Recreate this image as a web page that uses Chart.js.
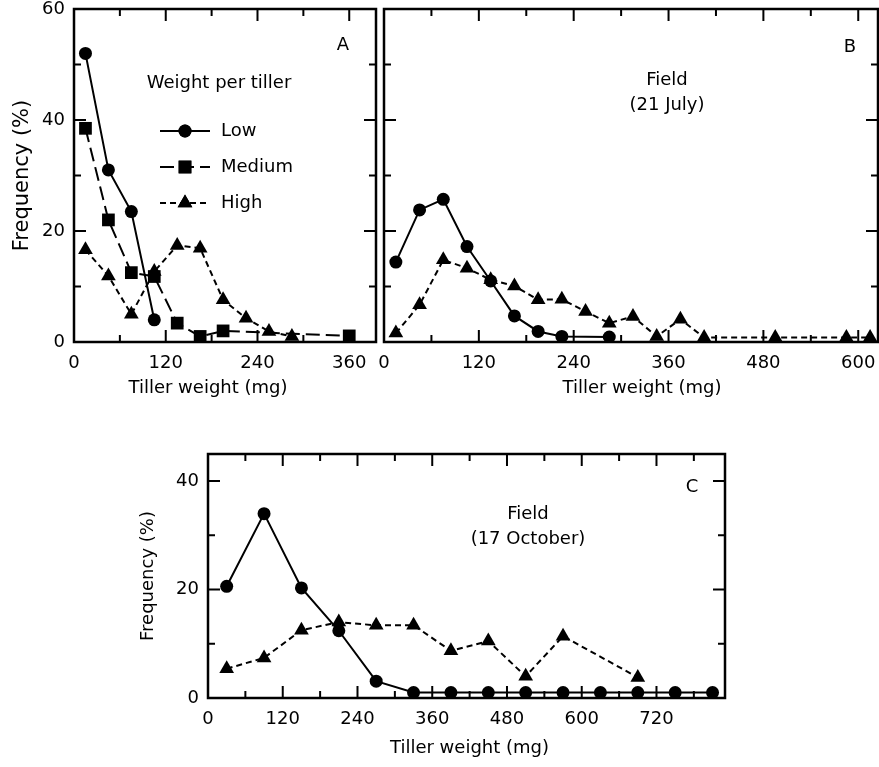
<!DOCTYPE html>
<html>
<head>
<meta charset="utf-8">
<script src="https://cdn.jsdelivr.net/npm/chart.js@4.4.1/dist/chart.umd.min.js"></script>
<style>
  body { margin: 0; background: #fff; width: 879px; height: 767px; position: relative; overflow: hidden; }
  canvas { position: absolute; }
</style>
</head>
<body>
<canvas id="chartA" width="380" height="420" style="left:0;top:0"></canvas>
<canvas id="chartB" width="509" height="420" style="left:370px;top:0"></canvas>
<canvas id="chartC" width="612" height="327" style="left:120px;top:440px"></canvas>
<script>
// Panel A - weight per tiller (frequency %)
const lowA_x = [15, 45, 75, 105];
const lowA = [52, 31, 23.5, 4];
const mediumA_x = [15, 45, 75, 105, 135, 165, 195, 360];
const mediumA = [38.5, 22, 12.5, 11.8, 3.4, 1, 2, 1.1];
const highA_x = [15, 45, 75, 105, 135, 165, 195, 225, 255, 285];
const highA = [16.6, 11.9, 5, 12.7, 17.4, 16.9, 7.6, 4.3, 1.9, 1];

// Panel B - field, 21 July
const lowB_x = [15, 45, 75, 105, 135, 165, 195, 225, 285];
const lowB = [14.4, 23.8, 25.7, 17.2, 11, 4.7, 1.9, 1, 0.9];
const highB_x = [15, 45, 75, 105, 135, 165, 195, 225, 255, 285, 315, 345, 375, 405, 495, 585, 615];
const highB = [1.6, 6.7, 14.8, 13.3, 11.2, 10.1, 7.6, 7.7, 5.5, 3.4, 4.6, 1, 4.1, 0.8, 0.8, 0.8, 0.8];

// Panel C - field, 17 October
const lowC_x = [30, 90, 150, 210, 270, 330, 390, 450, 510, 570, 630, 690, 750, 810];
const lowC = [20.6, 34, 20.3, 12.4, 3.1, 1, 1, 1, 1, 1, 1, 1, 1, 1];
const highC_x = [30, 90, 150, 210, 270, 330, 390, 450, 510, 570, 690];
const highC = [5.4, 7.4, 12.5, 14, 13.4, 13.4, 8.7, 10.5, 4, 11.4, 3.8];

const FONT = 'DejaVu Sans';
const X_TITLE = 'Tiller weight (mg)';
const Y_TITLE = 'Frequency (%)';

function pts(xs, ys) {
  return xs.map((x, i) => ({ x: x, y: ys[i] }));
}

function series(label, xs, ys, style) {
  const d = {
    label: label,
    data: pts(xs, ys),
    borderColor: '#000',
    backgroundColor: '#000',
    borderWidth: 2,
    pointBackgroundColor: '#000',
    pointBorderColor: '#000',
    pointBorderWidth: 0,
    fill: false,
    tension: 0
  };
  if (style === 'low') { d.pointStyle = 'circle'; d.pointRadius = 6.5; d.borderDash = []; }
  if (style === 'medium') { d.pointStyle = 'rect'; d.pointRadius = 9; d.borderDash = [14, 6]; }
  if (style === 'high') { d.pointStyle = 'triangle'; d.pointRadius = 8.5; d.borderDash = [6, 4]; }
  return d;
}

// inward ticks on all four sides + frame
const frameTicks = {
  id: 'frameTicks',
  afterDatasetsDraw(chart, args, opts) {
    const { ctx, chartArea: a } = chart;
    const x = chart.scales.x, y = chart.scales.y;
    ctx.save();
    ctx.strokeStyle = '#000';
    ctx.lineWidth = 2;
    ctx.beginPath();
    x.ticks.forEach(t => {
      const px = x.getPixelForValue(t.value);
      const len = t.value % opts.xMajor === 0 ? 12 : 7;
      ctx.moveTo(px, a.bottom); ctx.lineTo(px, a.bottom - len);
      ctx.moveTo(px, a.top); ctx.lineTo(px, a.top + len);
    });
    y.ticks.forEach(t => {
      const py = y.getPixelForValue(t.value);
      const len = t.value % opts.yMajor === 0 ? 12 : 7;
      ctx.moveTo(a.left, py); ctx.lineTo(a.left + len, py);
      ctx.moveTo(a.right, py); ctx.lineTo(a.right - len, py);
    });
    ctx.stroke();
    ctx.lineWidth = 2.5;
    ctx.strokeRect(a.left, a.top, a.right - a.left, a.bottom - a.top);
    ctx.restore();
  }
};

// free text: panel letter, captions, legend, x axis title
const panelText = {
  id: 'panelText',
  afterDraw(chart, args, opts) {
    const { ctx, chartArea: a } = chart;
    ctx.save();
    ctx.fillStyle = '#000';
    ctx.font = '18px "' + FONT + '"';
    ctx.textBaseline = 'middle';
    (opts.items || []).forEach(it => {
      ctx.textAlign = it.align || 'center';
      const px = it.fromRight ? a.right - it.dx : a.left + it.dx;
      ctx.fillText(it.text, px, a.top + it.dy);
    });
    // x axis title, a little off-centre as in the original figure
    ctx.textAlign = 'center';
    ctx.fillText(X_TITLE, (a.left + a.right) / 2 + opts.titleShift, a.bottom + opts.titleDy);
    if (opts.legend) {
      const lg = opts.legend;
      ctx.fillText(lg.title, a.left + lg.titleDx, a.top + lg.titleDy);
      chart.data.datasets.forEach((ds, i) => {
        const yy = a.top + lg.dy0 + i * lg.step;
        const x0 = a.left + lg.dx;
        ctx.strokeStyle = '#000';
        ctx.lineWidth = 2;
        ctx.setLineDash(ds.borderDash || []);
        ctx.beginPath();
        ctx.moveTo(x0, yy); ctx.lineTo(x0 + lg.len, yy);
        ctx.stroke();
        ctx.setLineDash([]);
        Chart.helpers.drawPoint(ctx, {
          pointStyle: ds.pointStyle, radius: ds.pointRadius, borderWidth: 0, rotation: 0
        }, x0 + lg.len / 2, yy);
        ctx.fill();
        ctx.textAlign = 'left';
        ctx.fillText(ds.label, x0 + lg.len + 11, yy);
      });
    }
    ctx.restore();
  }
};

function axisX(max, h) {
  return {
    type: 'linear', min: 0, max: max,
    afterFit: s => { s.height = h; s.paddingLeft = 0; s.paddingRight = 0; },
    grid: { display: false, drawTicks: false },
    border: { display: false },
    ticks: {
      stepSize: 60, includeBounds: false, autoSkip: false, maxRotation: 0,
      padding: 11, color: '#000', font: { family: FONT, size: 18 },
      callback: v => (v % 120 === 0 ? v : '')
    }
  };
}

function axisY(max, cfg) {
  return {
    type: 'linear', min: 0, max: max,
    afterFit: s => { s.width = cfg.w; s.paddingTop = 0; s.paddingBottom = 0; },
    grid: { display: false, drawTicks: false },
    border: { display: false },
    ticks: {
      display: cfg.labels, stepSize: 10, includeBounds: false, padding: 9,
      color: '#000', font: { family: FONT, size: 18 },
      callback: v => (v % 20 === 0 ? v : '')
    },
    title: {
      display: cfg.labels, text: Y_TITLE, color: '#000',
      font: { family: FONT, size: cfg.tsize || 18 }, padding: { top: cfg.tpad, bottom: 0 }
    }
  };
}

function baseOptions(xs, ys, pad, texts) {
  return {
    responsive: false,
    animation: false,
    devicePixelRatio: 1,
    layout: { padding: pad, autoPadding: false },
    scales: { x: xs, y: ys },
    plugins: {
      legend: { display: false },
      tooltip: { enabled: false },
      frameTicks: { xMajor: 120, yMajor: 20 },
      panelText: texts
    }
  };
}

Chart.defaults.font.family = FONT;

new Chart(document.getElementById('chartA'), {
  type: 'line',
  data: {
    datasets: [
      series('Low', lowA_x, lowA, 'low'),
      series('Medium', mediumA_x, mediumA, 'medium'),
      series('High', highA_x, highA, 'high')
    ]
  },
  options: baseOptions(
    axisX(395, 78),
    axisY(60, { w: 74, labels: true, tpad: 10, tsize: 21 }),
    { top: 9, left: 0, right: 4, bottom: 0 },
    {
      titleShift: -17, titleDy: 46,
      items: [{ text: 'A', fromRight: true, dx: 33, dy: 36 }],
      legend: { title: 'Weight per tiller', titleDx: 145, titleDy: 74, dx: 86, dy0: 122, step: 36, len: 50 }
    }
  ),
  plugins: [frameTicks, panelText]
});

new Chart(document.getElementById('chartB'), {
  type: 'line',
  data: {
    datasets: [
      series('Low', lowB_x, lowB, 'low'),
      series('High', highB_x, highB, 'high')
    ]
  },
  options: baseOptions(
    axisX(625, 78),
    axisY(60, { w: 14, labels: false, tpad: 0 }),
    { top: 9, left: 0, right: 1, bottom: 0 },
    {
      titleShift: 11, titleDy: 46,
      items: [
        { text: 'B', fromRight: true, dx: 28, dy: 38 },
        { text: 'Field', dx: 283, dy: 71 },
        { text: '(21 July)', dx: 283, dy: 96 }
      ]
    }
  ),
  plugins: [frameTicks, panelText]
});

new Chart(document.getElementById('chartC'), {
  type: 'line',
  data: {
    datasets: [
      series('Low', lowC_x, lowC, 'low'),
      series('High', highC_x, highC, 'high')
    ]
  },
  options: baseOptions(
    axisX(830, 69),
    axisY(45, { w: 88, labels: true, tpad: 18 }),
    { top: 14, left: 0, right: 7, bottom: 0 },
    {
      titleShift: 3, titleDy: 50,
      items: [
        { text: 'C', fromRight: true, dx: 33, dy: 33 },
        { text: 'Field', dx: 320, dy: 60 },
        { text: '(17 October)', dx: 320, dy: 85 }
      ]
    }
  ),
  plugins: [frameTicks, panelText]
});
</script>
</body>
</html>
